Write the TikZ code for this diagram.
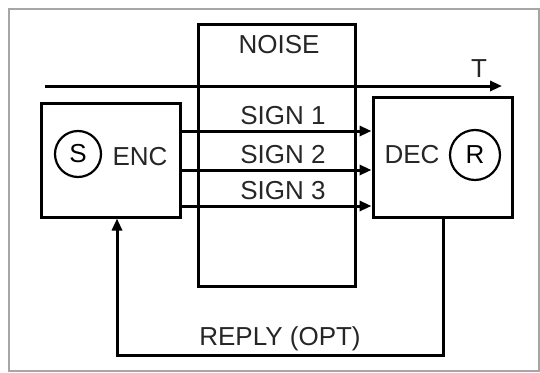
\documentclass[tikz,border=0pt]{standalone}
\usepackage{fontspec}
\setmainfont{Liberation Sans}
\usetikzlibrary{arrows.meta}

\tikzset{
  box/.style={draw, line width=3pt, minimum width=#1, inner sep=0pt},
  station/.style={draw, circle, line width=2.2pt, minimum size=46pt, inner sep=0pt, font=\fontsize{26}{30}\selectfont},
  lbl/.style={inner sep=0pt, anchor=base, text=black!85, font=\fontsize{26}{30}\selectfont},
  sig/.style={line width=3pt, -{Triangle[length=12pt,width=10pt]}}
}

\begin{document}
\begin{tikzpicture}[x=1pt, y=-1pt]

  \useasboundingbox (0,0) rectangle (540,372);

  % frame
  \draw[black!35, line width=1.5pt] (9,9) rectangle (539,371);

  % noise box
  \node[box=157pt, minimum height=262pt] (noise) at (276.5,155) {};
  \node[lbl] (noiselbl) at (279,53) {NOISE};

  % time axis
  \coordinate (tstart) at (45,86);
  \coordinate (tend) at (502,86);
  \draw[sig] (tstart) -- (tend);
  \node[lbl] (tlbl) at (479,77) {T};

  % encoder and decoder
  \node[box=139pt, minimum height=114pt, fill=white] (enc) at (110.5,160) {};
  \node[box=139pt, minimum height=120pt, fill=white] (dec) at (442.5,157) {};
  \node[station] (src) at (78,154) {S};
  \node[lbl] (enclbl) at (140,165) {ENC};
  \node[lbl] (declbl) at (412,163) {DEC};
  \node[station, minimum size=50pt] (rcv) at (475,155) {R};

  % signals
  \foreach \i/\yy in {1/131, 2/170, 3/206} {
    \coordinate (y\i) at (0,\yy);
    \draw[sig] (enc.east |- y\i) -- (dec.west |- y\i);
    \node[lbl] (sign\i) at (283,\yy-6.5) {SIGN \i};
  }

  % reply
  \coordinate (rfrom) at (443,355);
  \coordinate (rto) at (117,355);
  \draw[sig] (dec.south -| rfrom) -- (rfrom) -- (rto) -- (enc.south -| rto);
  \node[lbl] (replylbl) at (280,345) {REPLY (OPT)};

\end{tikzpicture}
\end{document}
